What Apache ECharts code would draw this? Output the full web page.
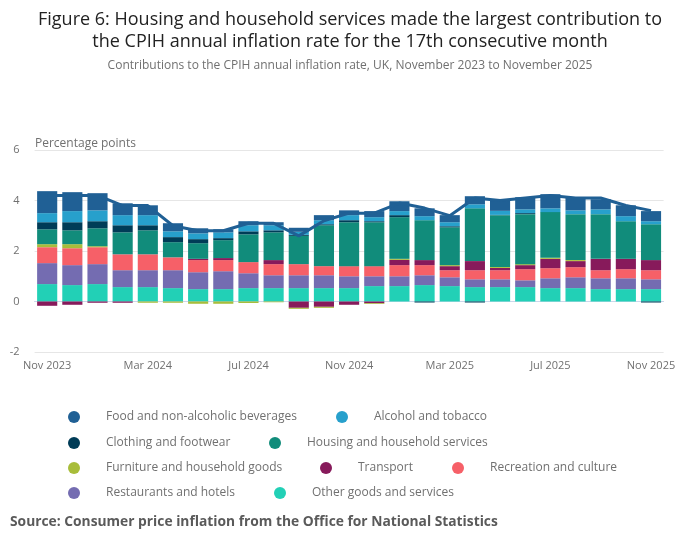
<!DOCTYPE html>
<html><head><meta charset="utf-8">
<script src="https://cdn.jsdelivr.net/npm/echarts@6/dist/echarts.min.js"></script>
<style>html,body{margin:0;padding:0;background:#fff}#c{width:700px;height:549px}</style>
</head><body><div id="c"></div>
<script>
const months = ['Nov 2023','Dec 2023','Jan 2024','Feb 2024','Mar 2024','Apr 2024','May 2024','Jun 2024','Jul 2024','Aug 2024','Sep 2024','Oct 2024','Nov 2024','Dec 2024','Jan 2025','Feb 2025','Mar 2025','Apr 2025','May 2025','Jun 2025','Jul 2025','Aug 2025','Sep 2025','Oct 2025','Nov 2025'];
const food        = [0.87,0.75,0.68,0.47,0.39,0.32,0.20,0.12,0.16,0.12,0.16,0.20,0.19,0.24,0.39,0.31,0.28,0.32,0.39,0.48,0.56,0.52,0.40,0.43,0.40];
const alcohol     = [0.36,0.44,0.43,0.40,0.40,0.23,0.23,0.23,0.24,0.20,0.12,0.16,0.20,0.16,0.16,0.16,0.16,0.16,0.16,0.15,0.15,0.15,0.19,0.20,0.12];
const clothing    = [0.28,0.32,0.28,0.28,0.20,0.20,0.16,0.08,0.12,0.08,0.04,0.04,0.08,0.04,0.08,-0.04,0.04,-0.04,0.01,0.04,0.00,0.00,0.00,0.00,-0.04];
const housing     = [0.59,0.55,0.71,0.87,0.95,0.60,0.62,0.71,1.10,1.10,1.12,1.62,1.74,1.74,1.65,1.58,1.50,2.09,2.05,1.98,1.81,1.82,1.77,1.49,1.42];
const furniture   = [0.12,0.16,0.04,0.00,-0.05,-0.05,-0.09,-0.09,-0.06,-0.03,-0.04,-0.04,0.00,-0.03,0.04,0.00,0.04,0.00,0.04,0.04,0.04,0.04,0.00,0.00,0.00];
const transport   = [-0.17,-0.13,-0.05,-0.05,0.00,0.00,0.05,0.08,0.00,0.16,-0.25,-0.21,-0.13,-0.07,0.21,0.20,0.16,0.36,0.09,0.16,0.37,0.24,0.45,0.41,0.40];
const recreation  = [0.63,0.67,0.67,0.63,0.63,0.51,0.48,0.44,0.44,0.44,0.44,0.36,0.40,0.40,0.44,0.40,0.28,0.36,0.36,0.44,0.40,0.40,0.32,0.36,0.36];
const restaurants = [0.83,0.79,0.79,0.67,0.67,0.71,0.67,0.71,0.59,0.51,0.51,0.51,0.47,0.39,0.39,0.39,0.35,0.31,0.31,0.27,0.39,0.43,0.43,0.43,0.39];
const other       = [0.69,0.65,0.69,0.57,0.57,0.53,0.49,0.49,0.53,0.53,0.53,0.53,0.53,0.61,0.61,0.65,0.61,0.57,0.57,0.57,0.53,0.53,0.49,0.49,0.49];
const cpih        = [4.2,4.2,4.2,3.8,3.8,3.0,2.8,2.8,3.1,3.1,2.6,3.2,3.5,3.5,3.9,3.7,3.4,4.1,4.0,4.1,4.2,4.1,4.1,3.8,3.6];
const yTicks = {min: -2, max: 6, interval: 2};

const FONT = '"Open Sans", sans-serif';
// stacking order bottom-up
const stackSeries = [
  {name: 'Other goods and services', data: other, color: '#22d0b6'},
  {name: 'Restaurants and hotels', data: restaurants, color: '#746cb1'},
  {name: 'Recreation and culture', data: recreation, color: '#f66068'},
  {name: 'Transport', data: transport, color: '#871a5b'},
  {name: 'Furniture and household goods', data: furniture, color: '#a8bd3a'},
  {name: 'Housing and household services', data: housing, color: '#118c7b'},
  {name: 'Clothing and footwear', data: clothing, color: '#003c57'},
  {name: 'Alcohol and tobacco', data: alcohol, color: '#27a0cc'},
  {name: 'Food and non-alcoholic beverages', data: food, color: '#206095'}
];
// legend layout: [name, left, top]
const legendLayout = [
  ['Food and non-alcoholic beverages', 68, 411],
  ['Alcohol and tobacco', 336, 411],
  ['Clothing and footwear', 68, 437],
  ['Housing and household services', 269, 437],
  ['Furniture and household goods', 68, 462],
  ['Transport', 320, 462],
  ['Recreation and culture', 452, 462],
  ['Restaurants and hotels', 68, 487],
  ['Other goods and services', 274, 487]
];

const chart = echarts.init(document.getElementById('c'), null, {renderer: 'canvas'});
const series = stackSeries.map(s => ({
  name: s.name, type: 'bar', stack: 'total', data: s.data,
  itemStyle: {color: s.color}, barCategoryGap: '20%', animation: false
}));
series.push({
  name: 'CPIH', type: 'line', data: cpih, symbol: 'none', z: 5,
  lineStyle: {color: '#206095', width: 3}, animation: false
});

chart.setOption({
  animation: false,
  textStyle: {fontFamily: FONT},
  title: [{
    text: 'Figure 6: Housing and household services made the largest contribution to\nthe CPIH annual inflation rate for the 17th consecutive month',
    left: 'center', top: 4,
    textStyle: {fontFamily: FONT, fontSize: 18, fontWeight: 'normal', color: '#222222', lineHeight: 22},
    subtext: 'Contributions to the CPIH annual inflation rate, UK, November 2023 to November 2025',
    subtextStyle: {fontFamily: FONT, fontSize: 12, color: '#707070'},
    itemGap: 7
  }, {
    text: 'Percentage points', left: 30, top: 133,
    textStyle: {fontFamily: FONT, fontSize: 12, fontWeight: 'normal', color: '#707070'}
  }, {
    text: 'Source: Consumer price inflation from the Office for National Statistics',
    left: 5, top: 510,
    textStyle: {fontFamily: FONT, fontSize: 13.8, fontWeight: 'bold', color: '#5a5a5a'}
  }],
  legend: legendLayout.map(l => ({
    data: [l[0]], left: l[1], top: l[2], padding: 0, icon: 'circle', itemWidth: 12, itemHeight: 12,
    textStyle: {fontFamily: FONT, fontSize: 12, color: '#707070', padding: [0, 0, 0, 21]},
    selectedMode: false
  })),
  grid: {left: 34.6, right: 36.4, top: 150, bottom: 197, containLabel: false},
  xAxis: {
    type: 'category', data: months, boundaryGap: true,
    axisLine: {lineStyle: {color: '#ccd6eb'}},
    axisTick: {interval: 3, alignWithLabel: true, length: 10, lineStyle: {color: '#ccd6eb'}},
    axisLabel: {interval: 3, fontSize: 11, color: '#707070', fontFamily: FONT, margin: 8}
  },
  yAxis: {
    type: 'value', min: yTicks.min, max: yTicks.max, interval: yTicks.interval,
    axisLine: {show: false}, axisTick: {show: false},
    splitLine: {lineStyle: {color: '#e6e6e6'}},
    axisLabel: {fontSize: 11, color: '#707070', fontFamily: FONT, margin: 15}
  },
  series: series
});
</script>
</body></html>
